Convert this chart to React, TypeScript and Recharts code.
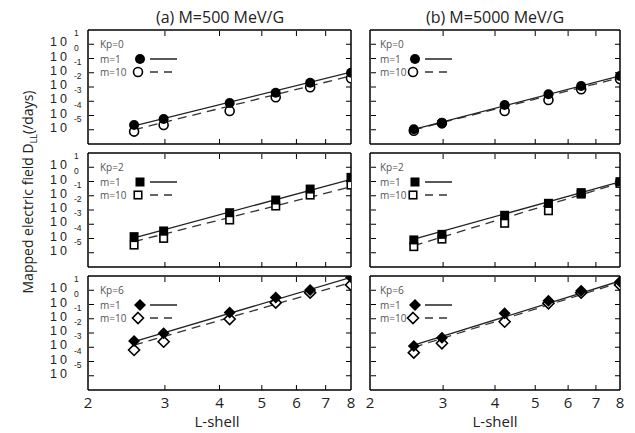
import React from 'react';
import { ComposedChart, Line, Scatter, XAxis, YAxis } from 'recharts';

// L-shell positions of the points
const L_SHELL = [2.55, 2.98, 4.22, 5.38, 6.45, 8];
const FIT_L = [2.55, 8];
const X_TICKS = [2, 3, 4, 5, 6, 7, 8];
const Y_TICKS = [1e1, 1e0, 1e-1, 1e-2, 1e-3, 1e-4, 1e-5];
const Y_EXP = ['1', '0', '-1', '-2', '-3', '-4', '-5'];

// log10(D_LL)
const A_KP0_M1 = [-4.67, -4.25, -3.12, -2.4, -1.7, -1.0];
const A_KP0_M10 = [-5.13, -4.67, -3.68, -2.72, -2.02, -1.39];
const A_KP0_FIT1 = [-4.72, -0.95];
const A_KP0_FIT10 = [-5.0, -1.22];

const B_KP0_M1 = [-4.97, -4.5, -3.26, -2.51, -1.93, -1.23];
const B_KP0_M10 = [-5.07, -4.55, -3.68, -2.91, -2.16, -1.44];
const B_KP0_FIT1 = [-4.97, -1.22];
const B_KP0_FIT10 = [-5.0, -1.35];

const A_KP2_M1 = [-3.87, -3.47, -2.19, -1.3, -0.53, 0.29];
const A_KP2_M10 = [-4.46, -3.99, -2.7, -1.72, -0.95, -0.25];
const A_KP2_FIT1 = [-3.95, 0.15];
const A_KP2_FIT10 = [-4.22, -0.37];

const B_KP2_M1 = [-4.1, -3.71, -2.37, -1.53, -0.78, -0.01];
const B_KP2_M10 = [-4.57, -4.04, -2.93, -2.05, -0.88, -0.13];
const B_KP2_FIT1 = [-4.05, -0.02];
const B_KP2_FIT10 = [-4.5, -0.1];

const A_KP6_M1 = [-2.56, -2.02, -0.57, 0.5, 1.02, 1.91];
const A_KP6_M10 = [-3.19, -2.61, -1.02, 0.13, 0.83, 1.37];
const A_KP6_FIT1 = [-2.6, 1.9];
const A_KP6_FIT10 = [-2.85, 1.55];

const B_KP6_M1 = [-2.91, -2.33, -0.62, 0.27, 0.97, 1.6];
const B_KP6_M10 = [-3.38, -2.72, -1.21, 0.08, 0.83, 1.37];
const B_KP6_FIT1 = [-2.85, 1.65];
const B_KP6_FIT10 = [-3.0, 1.55];

const rows = (xs: number[], ys: number[]) => xs.map((L, i) => ({ L, y: Math.pow(10, ys[i]) }));

const PLOT_TOPS = [30, 153, 276];
const PLOT_H = 114;
const COLS = [
  { left: 0, width: 360, ml: 88, mr: 9 },
  { left: 360, width: 275, ml: 10, mr: 15 },
];
const FONT = '"Open Sans", "DejaVu Sans", sans-serif';
const AX = 1; // axis band thickness

type ShapeKind = 'circle' | 'square' | 'diamond';

const Marker = ({ cx, cy, kind, filled }: { cx: number; cy: number; kind: ShapeKind; filled: boolean }) => {
  const fill = filled ? '#000' : '#fff';
  const sw = filled ? 0 : 1.6;
  if (kind === 'circle') return <circle cx={cx} cy={cy} r={filled ? 5 : 4.5} fill={fill} stroke="#000" strokeWidth={sw} />;
  if (kind === 'square') {
    const s = filled ? 9 : 7.5;
    return <rect x={cx - s / 2} y={cy - s / 2} width={s} height={s} fill={fill} stroke="#000" strokeWidth={sw} />;
  }
  const r = filled ? 6 : 5.5;
  return (
    <polygon
      points={`${cx},${cy - r} ${cx + r},${cy} ${cx},${cy + r} ${cx - r},${cy}`}
      fill={fill}
      stroke="#000"
      strokeWidth={sw}
    />
  );
};

interface PanelProps {
  col: number;
  row: number;
  kp: number;
  kind: ShapeKind;
  m1: number[];
  m10: number[];
  fit1: number[];
  fit10: number[];
}

const Panel = ({ col, row, kp, kind, m1, m10, fit1, fit10 }: PanelProps) => {
  const c = COLS[col];
  const top = PLOT_TOPS[row] - 10;
  const mb = row === 2 ? 26 : 6;
  const height = PLOT_H + 10 + mb;
  const showY = col === 0;
  const showX = row === 2;

  const bottomTick = (p: any) => {
    const v = p.payload.value;
    return (
      <g>
        {v !== 2 && v !== 8 && <line x1={p.x} x2={p.x} y1={p.y} y2={p.y - 5} stroke="#000" />}
        {showX && (
          <text x={p.x} y={p.y + 18} textAnchor="middle" fontSize={15} fontFamily={FONT} fill="#222">
            {v}
          </text>
        )}
      </g>
    );
  };
  const topTick = (p: any) => {
    const v = p.payload.value;
    if (v === 2 || v === 8) return <g />;
    return <line x1={p.x} x2={p.x} y1={p.y + AX} y2={p.y + AX + 5} stroke="#000" />;
  };
  const leftTick = (p: any) => {
    const i = Y_TICKS.indexOf(p.payload.value);
    const x = p.x + AX;
    return (
      <g>
        <line x1={x} x2={x + 5} y1={p.y} y2={p.y} stroke="#000" />
        {showY && (
          <g fontFamily='"Liberation Sans", Arial, sans-serif' fill="#222">
            <text x={x - 39} y={p.y + 2} fontSize={12.5} letterSpacing={3}>
              10
            </text>
            <text x={x - 15} y={p.y - 8} textAnchor="start" fontSize={8.5}>
              {Y_EXP[i]}
            </text>
          </g>
        )}
      </g>
    );
  };
  const rightTick = (p: any) => <line x1={p.x} x2={p.x - 5} y1={p.y} y2={p.y} stroke="#000" />;

  const lx = col === 0 ? 12 : 10;
  const mx = col === 0 ? 52 : 45;
  const lineX1 = mx + 10;
  const lineX2 = mx + 37;

  const axisStyle = { stroke: '#000', strokeWidth: 1.5 };

  return (
    <div style={{ position: 'absolute', left: c.left, top, width: c.width, height }}>
      <ComposedChart
        width={c.width}
        height={height}
        margin={{ top: 10 - AX, right: c.mr - AX, bottom: mb - AX, left: c.ml - AX }}
        style={{ overflow: 'visible' }}
      >
        <XAxis
          xAxisId="b"
          dataKey="L"
          type="number"
          scale="log"
          domain={[2, 8]}
          allowDataOverflow
          ticks={X_TICKS}
          interval={0}
          height={AX}
          tickSize={0}
          tickMargin={0}
          tickLine={false}
          axisLine={axisStyle}
          tick={bottomTick}
        />
        <XAxis
          xAxisId="t"
          orientation="top"
          dataKey="L"
          type="number"
          scale="log"
          domain={[2, 8]}
          allowDataOverflow
          ticks={X_TICKS}
          interval={0}
          height={AX}
          tickSize={0}
          tickMargin={0}
          tickLine={false}
          axisLine={axisStyle}
          tick={topTick}
        />
        <YAxis
          yAxisId="l"
          dataKey="y"
          type="number"
          scale="log"
          domain={[1e-6, 1e2]}
          allowDataOverflow
          ticks={Y_TICKS}
          interval={0}
          width={AX}
          tickSize={0}
          tickMargin={0}
          tickLine={false}
          axisLine={axisStyle}
          tick={leftTick}
        />
        <YAxis
          yAxisId="r"
          orientation="right"
          dataKey="y"
          type="number"
          scale="log"
          domain={[1e-6, 1e2]}
          allowDataOverflow
          ticks={Y_TICKS}
          interval={0}
          width={AX}
          tickSize={0}
          tickMargin={0}
          tickLine={false}
          axisLine={axisStyle}
          tick={rightTick}
        />
        <Line
          xAxisId="b"
          yAxisId="l"
          data={rows(FIT_L, fit10)}
          dataKey="y"
          type="linear"
          dot={false}
          stroke="#333"
          strokeWidth={1.3}
          strokeDasharray="9 6"
          isAnimationActive={false}
        />
        <Line
          xAxisId="b"
          yAxisId="l"
          data={rows(FIT_L, fit1)}
          dataKey="y"
          type="linear"
          dot={false}
          stroke="#222"
          strokeWidth={1.3}
          isAnimationActive={false}
        />
        <Scatter
          xAxisId="b"
          yAxisId="l"
          data={rows(L_SHELL, m10)}
          dataKey="y"
          isAnimationActive={false}
          shape={(p: any) => <Marker cx={p.cx} cy={p.cy} kind={kind} filled={false} />}
        />
        <Scatter
          xAxisId="b"
          yAxisId="l"
          data={rows(L_SHELL, m1)}
          dataKey="y"
          isAnimationActive={false}
          shape={(p: any) => <Marker cx={p.cx} cy={p.cy} kind={kind} filled />}
        />
      </ComposedChart>
      <svg
        style={{ position: 'absolute', left: c.ml, top: 10, pointerEvents: 'none' }}
        width={120}
        height={60}
        fontFamily={FONT}
        fontSize={10}
        fill="#555"
      >
        <text x={lx} y={18}>Kp={kp}</text>
        <text x={lx} y={33}>m=1</text>
        <text x={lx} y={46}>m=10</text>
        <Marker cx={mx} cy={29} kind={kind} filled />
        <line x1={lineX1} x2={lineX2} y1={29} y2={29} stroke="#222" strokeWidth={1.5} />
        <Marker cx={mx - 2} cy={42} kind={kind} filled={false} />
        <line x1={lineX1} x2={lineX2} y1={42} y2={42} stroke="#333" strokeWidth={1.5} strokeDasharray="8 6" />
      </svg>
    </div>
  );
};

export default function App() {
  return (
    <div style={{ position: 'absolute', left: 0, top: 0, width: 635, height: 433, background: '#fff', fontFamily: FONT }}>
      <div style={{ position: 'absolute', left: 120, width: 200, top: 6, textAlign: 'center', fontSize: 16, color: '#222' }}>
        (a) M=500 MeV/G
      </div>
      <div style={{ position: 'absolute', left: 395, width: 200, top: 6, textAlign: 'center', fontSize: 16, color: '#222' }}>
        (b) M=5000 MeV/G
      </div>
      <svg style={{ position: 'absolute', left: 0, top: 0 }} width={50} height={433}>
        <text
          transform="translate(33,192) rotate(-90)"
          textAnchor="middle"
          fontSize={14}
          fontFamily={FONT}
          fill="#222"
        >
          Mapped electric field D<tspan fontSize={9} dy={4}>LL</tspan>
          <tspan dy={-4}>(/days)</tspan>
        </text>
      </svg>
      <Panel col={0} row={0} kp={0} kind="circle" m1={A_KP0_M1} m10={A_KP0_M10} fit1={A_KP0_FIT1} fit10={A_KP0_FIT10} />
      <Panel col={1} row={0} kp={0} kind="circle" m1={B_KP0_M1} m10={B_KP0_M10} fit1={B_KP0_FIT1} fit10={B_KP0_FIT10} />
      <Panel col={0} row={1} kp={2} kind="square" m1={A_KP2_M1} m10={A_KP2_M10} fit1={A_KP2_FIT1} fit10={A_KP2_FIT10} />
      <Panel col={1} row={1} kp={2} kind="square" m1={B_KP2_M1} m10={B_KP2_M10} fit1={B_KP2_FIT1} fit10={B_KP2_FIT10} />
      <Panel col={0} row={2} kp={6} kind="diamond" m1={A_KP6_M1} m10={A_KP6_M10} fit1={A_KP6_FIT1} fit10={A_KP6_FIT10} />
      <Panel col={1} row={2} kp={6} kind="diamond" m1={B_KP6_M1} m10={B_KP6_M10} fit1={B_KP6_FIT1} fit10={B_KP6_FIT10} />
      <div style={{ position: 'absolute', left: 167, width: 100, top: 411, textAlign: 'center', fontSize: 15, color: '#222' }}>
        L-shell
      </div>
      <div style={{ position: 'absolute', left: 445, width: 100, top: 411, textAlign: 'center', fontSize: 15, color: '#222' }}>
        L-shell
      </div>
    </div>
  );
}
